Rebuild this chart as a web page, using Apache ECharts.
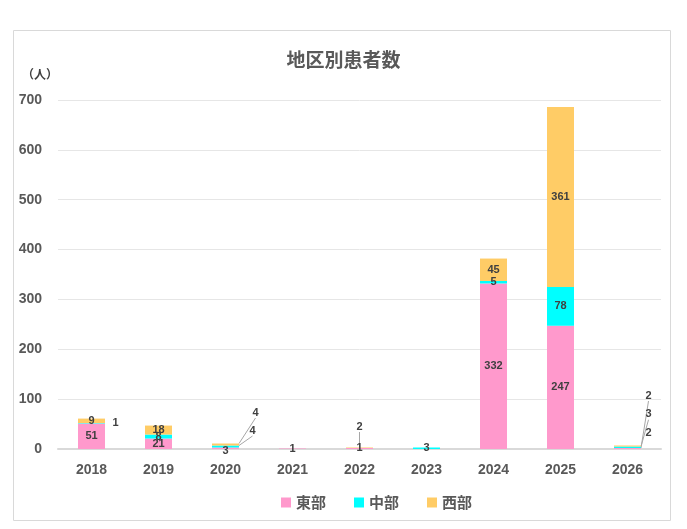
<!DOCTYPE html>
<html><head><meta charset="utf-8">
<script src="https://cdn.jsdelivr.net/npm/echarts@6/dist/echarts.min.js"></script>
<style>html,body{margin:0;padding:0;background:#fff}#c{width:687px;height:529px}</style>
</head><body><div id="c"></div>
<script>
const categories = ['2018','2019','2020','2021','2022','2023','2024','2025','2026'];
const east   = [51, 21, 3, 1, 2, null, 332, 247, 2];
const middle = [1, 8, 4, null, null, 3, 5, 78, 3];
const west   = [9, 18, 4, null, 1, null, 45, 361, 2];
const yTicks = [0,100,200,300,400,500,600,700];
const seriesNames = ['東部','中部','西部'];
const colors = ['#FF99CC','#00FFFF','#FFCC66'];

// label moves (pixel offsets) for small segments: key "series-index"
const moves = {
  '1-0': {dx: 24, dy: 0, line: false},
  '2-2': {dx: 30, dy: -32, line: true},
  '1-2': {dx: 27, dy: -16, line: true},
  '0-2': {dx: 0, dy: 3, line: false},
  '0-4': {dx: 0, dy: -22, line: true},
  '0-8': {dx: 21, dy: -53, line: true},
  '1-8': {dx: 21, dy: -33, line: true},
  '2-8': {dx: 21, dy: -13, line: false}
};

const chart = echarts.init(document.getElementById('c'));
const font = '"Liberation Sans","Noto Sans CJK JP",sans-serif';
const cjk = '"Noto Sans CJK JP","Noto Sans",sans-serif';
const series = [east, middle, west].map((arr, si) => ({
  name: seriesNames[si],
  type: 'bar',
  stack: 'total',
  barWidth: 27,
  itemStyle: {color: colors[si]},
  data: arr.map((v, i) => {
    const m = moves[si + '-' + i];
    const d = {value: v};
    if (m && !m.line) d.labelLine = {show: false};
    return d;
  }),
  label: {
    show: true, position: 'inside',
    color: '#404040', fontWeight: 'bold', fontSize: 11, fontFamily: font,
    formatter: p => (p.value == null ? '' : p.value)
  },
  labelLine: {show: true, lineStyle: {color: '#a6a6a6', width: 1}},
  labelLayout: function (p) {
    const m = moves[p.seriesIndex + '-' + p.dataIndex];
    if (m) return {dx: m.dx, dy: m.dy, hideOverlap: false};
    return {hideOverlap: false};
  }
}));

chart.setOption({
  animation: false,
  graphic: [{type: 'rect', shape: {x: 13.5, y: 30.5, width: 657, height: 490},
    style: {fill: 'none', stroke: '#d9d9d9', lineWidth: 1}, silent: true, z: -10}],
  title: {text: '地区別患者数', left: 'center', top: 45,
    textStyle: {fontFamily: cjk, fontSize: 19, fontWeight: 'bold', color: '#595959'}},
  legend: {bottom: 14, left: 276, itemWidth: 10, itemHeight: 10, itemGap: 28,
    icon: 'rect',
    textStyle: {fontFamily: cjk, fontSize: 15, fontWeight: 'bold', color: '#595959'},
    data: seriesNames},
  grid: {left: 58, right: 26, top: 100, bottom: 80, containLabel: false},
  xAxis: {type: 'category', data: categories,
    axisLine: {lineStyle: {color: '#d9d9d9', width: 2}},
    axisTick: {show: false},
    axisLabel: {margin: 14, color: '#595959', fontWeight: 'bold', fontSize: 14, fontFamily: font}},
  yAxis: {type: 'value', min: yTicks[0], max: yTicks[yTicks.length-1], interval: 100,
    name: '（人）', nameLocation: 'end', nameGap: 20,
    nameTextStyle: {fontFamily: cjk, fontSize: 12, fontWeight: 'bold', color: '#404040', align: 'right', padding: [0, 0, 0, 0]},
    axisLine: {show: false}, axisTick: {show: false},
    splitLine: {lineStyle: {color: '#e6e6e6', width: 1}},
    axisLabel: {margin: 16, color: '#595959', fontWeight: 'bold', fontSize: 14, fontFamily: font}},
  series: series
});
</script></body></html>
